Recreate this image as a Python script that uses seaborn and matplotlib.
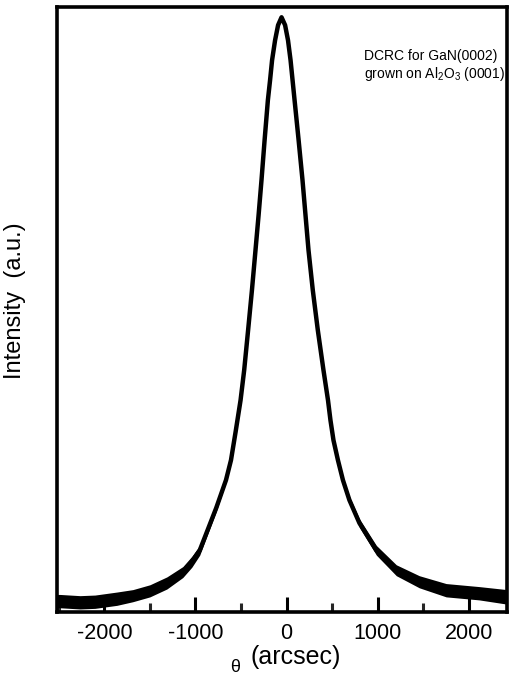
import numpy as np
import pandas as pd
import matplotlib
matplotlib.use("Agg")
import matplotlib.pyplot as plt
from matplotlib.ticker import MultipleLocator
import seaborn as sns

# ---- data (theta in arcsec, intensity in a.u.) ----
theta = [-2520, -2486, -2267, -2103, -1862, -1687, -1500, -1314, -1139, -1040,
         -953, -865, -772, -665, -610, -559, -505, -465, -422, -380,
         -341, -307, -275, -241, -205, -181, -159, -126, -93, -55,
         -16, 16, 44, 66, 88, 131, 175, 208, 241, 288,
         343, 405, 455, 482, 515, 564, 619, 690, 800, 986,
         1205, 1457, 1752, 2114, 2420]
intensity = [0.018, 0.018, 0.016, 0.017, 0.022, 0.027, 0.035, 0.048, 0.066, 0.083,
             0.102, 0.136, 0.172, 0.218, 0.251, 0.298, 0.350, 0.400, 0.466, 0.532,
             0.598, 0.656, 0.714, 0.780, 0.846, 0.879, 0.912, 0.945, 0.970, 0.983,
             0.970, 0.945, 0.912, 0.879, 0.846, 0.782, 0.714, 0.656, 0.598, 0.532,
             0.466, 0.400, 0.350, 0.317, 0.284, 0.251, 0.218, 0.185, 0.147, 0.102,
             0.069, 0.050, 0.036, 0.031, 0.025]
# half-width of the noise band
spread = [0.011, 0.011, 0.011, 0.011, 0.011, 0.010, 0.010, 0.010, 0.009, 0.009,
          0.008, 0.007, 0.006, 0.004, 0.003, 0.002, 0.001, 0.0, 0.0, 0.0,
          0.0, 0.0, 0.0, 0.0, 0.0, 0.0, 0.0, 0.0, 0.0, 0.0,
          0.0, 0.0, 0.0, 0.0, 0.0, 0.0, 0.0, 0.0, 0.0, 0.0,
          0.0, 0.0, 0.001, 0.002, 0.003, 0.004, 0.005, 0.006, 0.007, 0.008,
          0.009, 0.010, 0.011, 0.011, 0.012]
major_ticks = [-2000, -1000, 0, 1000, 2000]
tick_labels = ["-2000", "-1000", "0", "1000", "2000"]
annotation = "DCRC for GaN(0002)\ngrown on Al$_2$O$_3$ (0001)"
theta_symbol = "θ"
xlabel = "(arcsec)"
ylabel = "Intensity  (a.u.)"

df = pd.DataFrame({"theta": theta, "intensity": intensity, "spread": spread})

sns.set_theme(style="ticks")
plt.rcParams["font.family"] = ["Liberation Sans", "DejaVu Sans"]
plt.rcParams["mathtext.fontset"] = "custom"
plt.rcParams["mathtext.rm"] = "Liberation Sans"
plt.rcParams["mathtext.it"] = "Liberation Sans:italic"

fig = plt.figure(figsize=(5.10, 6.87), dpi=100)
ax = fig.add_axes([57 / 510, 1 - 612 / 687, (507 - 57) / 510, (612 - 7) / 687])

ax.fill_between(df["theta"], df["intensity"] - df["spread"],
                df["intensity"] + df["spread"], color="black", lw=0)
sns.lineplot(data=df, x="theta", y="intensity", color="black", lw=3.2, ax=ax)

ax.set_xlim(-2520, 2420)
ax.set_ylim(0, 1)
ax.set_xticks(major_ticks)
ax.set_xticklabels(tick_labels)
ax.xaxis.set_minor_locator(MultipleLocator(500))
ax.tick_params(axis="x", which="major", direction="in", length=11, width=2.2,
               labelsize=15.5, pad=8, colors="black")
ax.tick_params(axis="x", which="minor", direction="in", length=6.5, width=2.2)
ax.set_yticks([])
ax.set_xlabel(xlabel, fontsize=18, color="black")
ax.xaxis.set_label_coords(0.531, -0.055)
ax.set_ylabel(ylabel, fontsize=17, color="black")
ax.yaxis.set_label_coords(-0.068, 0.515)
fig.text(235 / 510, 1 - 667 / 687, theta_symbol, fontsize=13,
         ha="center", va="center", color="black")

for s in ax.spines.values():
    s.set_visible(True)
    s.set_linewidth(2.6)
    s.set_color("black")

ax.text(0.683, 0.93, annotation, transform=ax.transAxes, ha="left", va="top",
        fontsize=10, linespacing=1.12, color="black", zorder=5)

fig.savefig("out.png", dpi=100)
